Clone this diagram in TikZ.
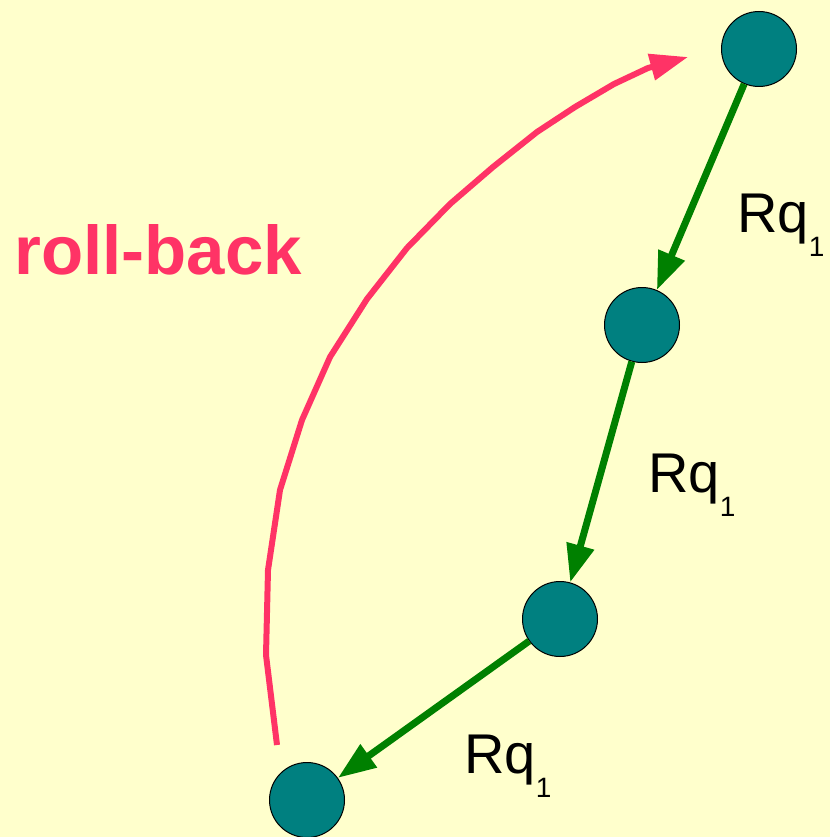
\documentclass[tikz,border=0pt]{standalone}
\usepackage{fontspec}
\setmainfont{Liberation Sans}
\usetikzlibrary{arrows.meta}
\definecolor{bgc}{HTML}{FFFFCC}
\definecolor{pinkc}{HTML}{FF3366}
\definecolor{greenc}{HTML}{008000}
\definecolor{tealc}{HTML}{008080}
\tikzset{
  state/.style={circle, draw=black, line width=1pt, fill=tealc, minimum size=75pt, inner sep=0pt},
  reqarrow/.style={draw=greenc, line width=7pt, -{Triangle[length=38pt,width=27pt]}},
  rollarrow/.style={draw=pinkc, line width=6pt, line join=round, -{Triangle[length=38pt,width=26pt]}},
  reqlabel/.style={anchor=base west, inner sep=0pt, font=\fontsize{56}{60}\selectfont},
}
\newcommand{\rqlab}{Rq\raisebox{-24pt}{\fontsize{28}{30}\selectfont 1}}
\begin{document}
\begin{tikzpicture}[x=1pt,y=-1pt]
\fill[bgc] (0,0) rectangle (830,837);
\useasboundingbox (0,0) rectangle (830,837);
\node[state] (n1) at (759,49) {};
\node[state] (n2) at (642,325) {};
\node[state] (n3) at (560,619) {};
\node[state] (n4) at (307,800) {};
\draw[reqarrow] (n1) -- (n2);
\draw[reqarrow] (n2) -- (n3);
\draw[reqarrow] (n3) -- (n4);
\node[reqlabel] (l1) at (737,232) {\rqlab};
\node[reqlabel] (l2) at (648,492) {\rqlab};
\node[reqlabel] (l3) at (464,773) {\rqlab};
\coordinate (rbstart) at (277,745);
\coordinate (rbend) at (688,57);
\draw[rollarrow] (rbstart) -- (266,655) -- (268,570) -- (280,490) -- (302,420) -- (330,357) -- (367,299) -- (407,248) -- (450,204) -- (493,167) -- (537,132) -- (575,107) -- (614,84) -- (648,68) -- (rbend);
\node[anchor=base west, inner sep=0pt, text=pinkc, font=\bfseries\fontsize{69}{72}\selectfont] (rb) at (14,274) {roll-back};
\end{tikzpicture}
\end{document}
